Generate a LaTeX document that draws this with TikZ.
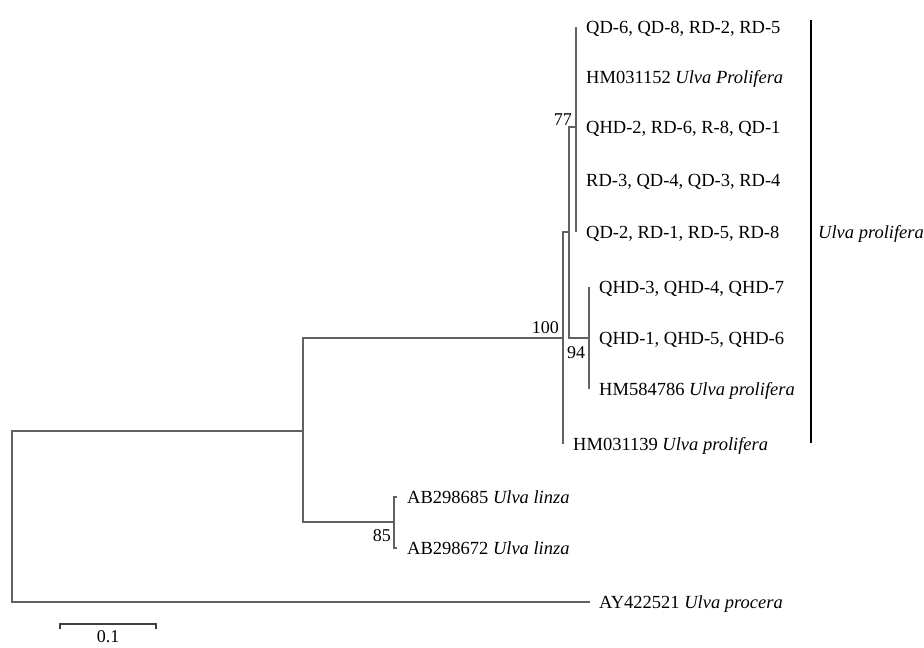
\documentclass[tikz,border=0pt]{standalone}
\usepackage{fontspec}
\setmainfont{Liberation Serif}
\usetikzlibrary{positioning,calc}
\tikzset{
  ptbr/.style={draw=black!62, line width=1.6pt},
  ptlab/.style={font=\fontsize{18.5}{22}\selectfont, inner sep=0pt,
                text height=12.2pt, text depth=0pt},
  ptboot/.style={font=\fontsize{18}{22}\selectfont, inner sep=1pt},
  ptbar/.style={draw=black, line width=1.3pt},
}
\newcommand{\spname}[1]{\textit{#1}}

\begin{document}
\begin{tikzpicture}[x=1pt, y=-1pt]
  \useasboundingbox (0,0) rectangle (924,648);
  % tips
  \coordinate (t1) at (576,27);
  \coordinate (t2) at (576,77);
  \coordinate (t3) at (576,127);
  \coordinate (t4) at (576,180);
  \coordinate (t5) at (576,232);
  \coordinate (t6) at (589,287);
  \coordinate (t7) at (589,338);
  \coordinate (t8) at (589,389);
  \coordinate (t9) at (563,444);
  \coordinate (t10) at (397,497);
  \coordinate (t11) at (397,548);
  \coordinate (t12) at (590,602);
  % inner nodes
  \coordinate (n77) at (576,127);
  \coordinate (n94) at (589,338);
  \coordinate (nA) at (569,232);
  \coordinate (n100) at (563,338);
  \coordinate (n85) at (394,522);
  \coordinate (nB) at (303,431);
  \coordinate (root) at (12,516);
  % taxa
  \node[ptlab, right=10pt of t1] (l1) {QD-6, QD-8, RD-2, RD-5};
  \node[ptlab, right=10pt of t2] (l2) {HM031152 \spname{Ulva Prolifera}};
  \node[ptlab, right=10pt of t3] (l3) {QHD-2, RD-6, R-8, QD-1};
  \node[ptlab, right=10pt of t4] (l4) {RD-3, QD-4, QD-3, RD-4};
  \node[ptlab, right=10pt of t5] (l5) {QD-2, RD-1, RD-5, RD-8};
  \node[ptlab, right=10pt of t6] (l6) {QHD-3, QHD-4, QHD-7};
  \node[ptlab, right=10pt of t7] (l7) {QHD-1, QHD-5, QHD-6};
  \node[ptlab, right=10pt of t8] (l8) {HM584786 \spname{Ulva prolifera}};
  \node[ptlab, right=10pt of t9] (l9) {HM031139 \spname{Ulva prolifera}};
  \node[ptlab, right=10pt of t10] (l10) {AB298685 \spname{Ulva linza}};
  \node[ptlab, right=10pt of t11] (l11) {AB298672 \spname{Ulva linza}};
  \node[ptlab, right=9pt of t12] (l12) {AY422521 \spname{Ulva procera}};
  % branches
  \foreach \t in {t1,t2,t3,t4,t5} \draw[ptbr] (n77) |- (\t);
  \foreach \t in {t6,t7,t8} \draw[ptbr] (n94) |- (\t);
  \draw[ptbr] (nA) |- (n77);
  \draw[ptbr] (nA) |- (n94);
  \draw[ptbr] (n100) |- (nA);
  \draw[ptbr] (n100) |- (t9);
  \draw[ptbr] (n85) |- (t10);
  \draw[ptbr] (n85) |- (t11);
  \draw[ptbr] (nB) |- (n100);
  \draw[ptbr] (nB) |- (n85);
  \draw[ptbr] (root) |- (nB);
  \draw[ptbr] (root) |- (t12);
  % bootstrap values
  \node[ptboot, anchor=south east] (b77) at (573,127) {77};
  \node[ptboot, anchor=south east] (b100) at (560,335) {100};
  \node[ptboot, anchor=north west] (b94) at (566,345) {94};
  \node[ptboot, anchor=north east] (b85) at (392,528) {85};
  % clade bar
  \coordinate (bartop) at (811,20);
  \coordinate (barbot) at (811,443);
  \draw[ptbar] (bartop) -- (barbot);
  \node[ptlab, anchor=west] (clade) at (818,232) {\spname{Ulva prolifera}};
  % scale
  \coordinate (sb1) at (60,624);
  \coordinate (sb2) at (156,624);
  \draw[draw=black!75, line width=1.2pt] ([yshift=-5pt]sb1) -- (sb1) -- (sb2) -- ([yshift=-5pt]sb2);
  \node[ptboot, anchor=north, yshift=-5pt] (sblab) at ($(sb1)!0.5!(sb2)$) {0.1};
\end{tikzpicture}
\end{document}
